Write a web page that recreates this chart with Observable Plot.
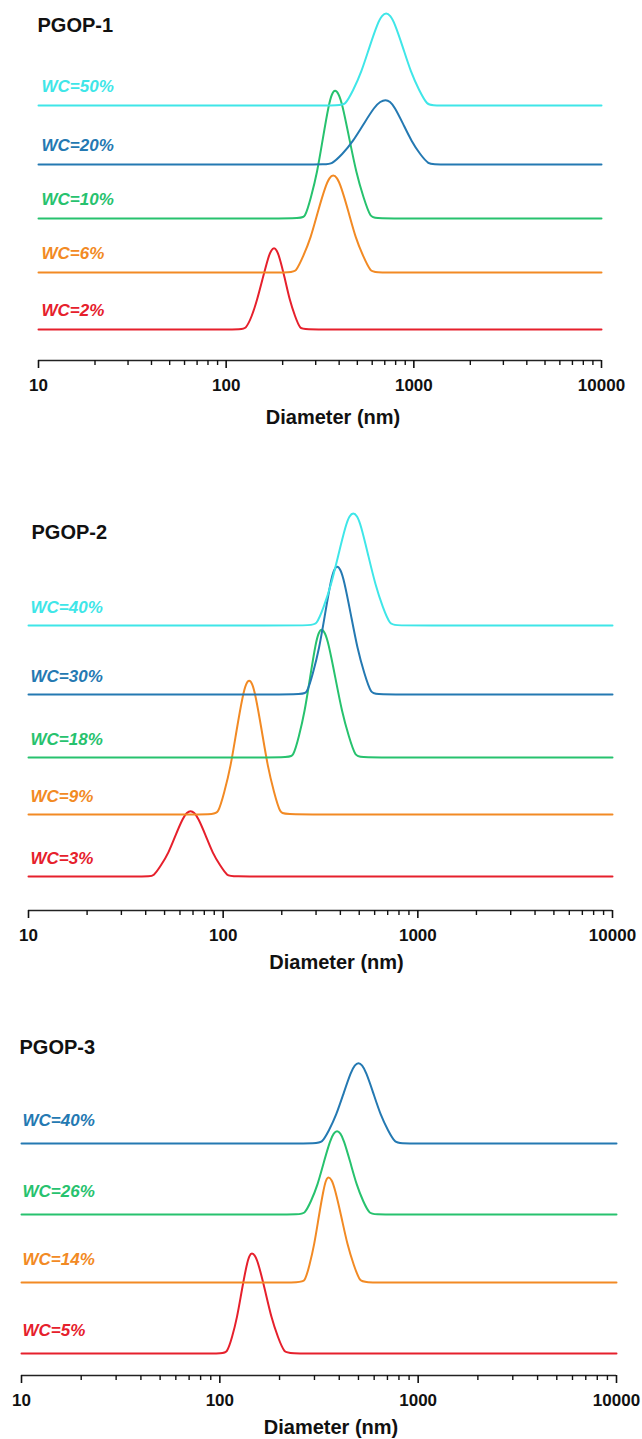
<!DOCTYPE html>
<html><head><meta charset="utf-8">
<script src="https://cdn.jsdelivr.net/npm/d3@7"></script>
<script src="https://cdn.jsdelivr.net/npm/@observablehq/plot@0.6"></script>
<style>
body{margin:0;background:#fff;}
#wrap{width:642px;}
#wrap svg{display:block;}
#wrap g[aria-label="x-axis tick label"], #wrap g[aria-label="x-axis tick label"] text{font-size:17px !important;font-weight:bold !important;}
</style></head><body><div id="wrap"></div>
<script>
// ---- shared axis data ----
const xTicksMajor = [10, 100, 1000, 10000];
const xTicksMinor = [20,30,40,50,60,70,80,90,200,300,400,500,600,700,800,900,2000,3000,4000,5000,6000,7000,8000,9000];
const xLabel = "Diameter (nm)";
const colorRed = "#e6202c", colorOrange = "#f28a24", colorGreen = "#27c26e", colorBlue = "#2479b2", colorCyan = "#3fe6e8";

// ---- PGOP-1 ----
const p1Title = "PGOP-1";
const p1Labels = ["WC=2%", "WC=6%", "WC=10%", "WC=20%", "WC=50%"];
const p1Colors = [colorRed, colorOrange, colorGreen, colorBlue, colorCyan];
const p1Offsets = [31, 88, 142, 196, 255];
const p1Diameter = [
  [10,118.7,127,137,146,157,168,173.9,180,185.9,192,205,218,233,248,265,10000],
  [10,219.6,235,257,282,309,339,355.3,372,389.5,408,447,490,538,590,631,10000],
  [10,245.8,263,283,305,328,353,366.3,380,397,415,452,494,539,589,630,10000],
  [10,339,363,415,474,542,619,662.2,708,746.5,787,875,973,1082,1202,1286,10000],
  [10,401,429,475,525,581,643,676.8,712,749,788,872,965,1068,1182,1265,10000]
];
const p1Intensity = [
  [0,0,0,13,29,52,73,79.5,82,79.5,73,52,29,13,0,0,0],
  [0,0,0,16,34,62,87,95,98,95,87,62,34,16,0,0,0],
  [0,0,0,21,45,81,115,125,129,125,115,81,45,21,0,0,0],
  [0,0,0,10,23,41,58,63,65,63,58,41,23,10,0,0,0],
  [0,0,0,15,33,59,83,90,93,90,83,59,33,15,0,0,0]
];

// ---- PGOP-2 ----
const p2Title = "PGOP-2";
const p2Labels = ["WC=3%", "WC=9%", "WC=18%", "WC=30%", "WC=40%"];
const p2Colors = [colorRed, colorOrange, colorGreen, colorBlue, colorCyan];
const p2Offsets = [34, 96, 153, 216, 285];
const p2Diameter = [
  [10,41,43.9,47.9,52.3,57.1,62.3,65.1,68,71,74.2,81,88.4,96.5,105.3,112.7,10000],
  [10,87.9,94.1,101.3,109.1,117.3,126.3,131.1,136,141.1,146.4,157.6,169.6,182.6,196.5,210.3,10000],
  [10,214,229,245,262,280,299,309.5,320,333.2,347,376,408,442,479,512.5,10000],
  [10,251.4,269,289,311,334,358,371.5,385,400.8,417,452,490,531,576,616,10000],
  [10,281.3,301,328,358,391,427,446.1,466,486.8,509,555,606,661,722,772.5,10000]
];
const p2Intensity = [
  [0,0,0,11,23,42,59,64,66,64,59,42,23,11,0,0,0],
  [0,0,0,22,47,85,120,131,135,131,120,85,47,22,0,0,0],
  [0,0,0,21,45,81,115,125,129,125,115,81,45,21,0,0,0],
  [0,0,0,21,45,81,115,125,129,125,115,81,45,21,0,0,0],
  [0,0,0,18,40,71,101,110,113,110,101,71,40,18,0,0,0]
];

// ---- PGOP-3 ----
const p3Title = "PGOP-3";
const p3Labels = ["WC=5%", "WC=14%", "WC=26%", "WC=40%"];
const p3Colors = [colorRed, colorOrange, colorGreen, colorBlue];
const p3Offsets = [22, 93, 161, 232];
const p3Diameter = [
  [10,101.6,108.7,115.2,122,129.2,136.9,140.9,145,150.6,156.5,168.8,182.1,196.5,212,226.8,10000],
  [10,250.5,268,283,299,316,334,343.4,353,366.2,380,409,440,474,510,545.7,10000],
  [10,249.5,267,288,311,335,361,375.5,390,405.1,421,454,490,528,570,610,10000],
  [10,304.7,326,355,386,422,459,479,500,521.9,545,593,647,705,768,821.8,10000]
];
const p3Intensity = [
  [0,0,0,16,35,64,90,98,101,98,90,64,35,16,0,0,0],
  [0,0,0,17,37,67,94,103,106,103,94,67,37,17,0,0,0],
  [0,0,0,13,29,53,75,81.5,84,81.5,75,53,29,13,0,0,0],
  [0,0,0,13,28,51,72,78.5,81,78.5,72,51,28,13,0,0,0]
];

const FONT = "'Liberation Sans', Arial, Helvetica, sans-serif";

function panel(d, L) {
  const marks = [
    Plot.ruleY([0], {stroke: "#222", strokeWidth: 1.6}),
    Plot.axisX(xTicksMinor, {tickSize: 5, tickFormat: () => "", strokeWidth: 1.4, label: null}),
    Plot.axisX(xTicksMajor, {tickSize: 8, tickPadding: 10, tickFormat: v => String(v), fontSize: 17, fontWeight: "bold", strokeWidth: 1.6, label: null})
  ];
  d.labels.forEach((lab, i) => {
    const rows = d.diam[i].map((x, j) => ({x, y: d.offsets[i] + d.inten[i][j]}));
    marks.push(Plot.line(rows, {x: "x", y: "y", stroke: d.colors[i], strokeWidth: 2, curve: "basis"}));
    marks.push(Plot.text([{lab, y: d.offsets[i]}], {y: "y", text: "lab", frameAnchor: "left", textAnchor: "start", lineAnchor: "middle",
      dx: L.labelDx, dy: L.labelDy, fill: d.colors[i], fontSize: 17, fontWeight: "bold", fontStyle: "italic"}));
  });
  marks.push(Plot.text([d.title], {frameAnchor: "top-left", textAnchor: "start", lineAnchor: "middle", dx: L.titleDx, dy: L.titleDy,
    fontSize: 20, fontWeight: "bold", fill: "#111"}));
  marks.push(Plot.text([xLabel], {frameAnchor: "bottom", textAnchor: "middle", lineAnchor: "middle", dx: L.xlabDx, dy: L.xlabDy,
    fontSize: 20, fontWeight: "bold", fill: "#111"}));
  return Plot.plot({
    width: 642, height: L.height,
    marginTop: L.mt, marginBottom: L.mb, marginLeft: L.ml, marginRight: L.mr,
    x: {type: "log", domain: [10, 10000]},
    y: {domain: [0, L.ymax], axis: null},
    style: {fontFamily: FONT, fontSize: "17px", fontWeight: "bold", background: "white", color: "#111"},
    marks
  });
}

const wrap = document.getElementById("wrap");
wrap.append(panel({title: p1Title, labels: p1Labels, colors: p1Colors, offsets: p1Offsets, diam: p1Diameter, inten: p1Intensity},
  {height: 440, mt: 10, mb: 80, ml: 38, mr: 41, ymax: 350, titleDx: -1, titleDy: 15, labelDx: 3, labelDy: -19, xlabDx: 13, xlabDy: 57}));
wrap.append(panel({title: p2Title, labels: p2Labels, colors: p2Colors, offsets: p2Offsets, diam: p2Diameter, inten: p2Intensity},
  {height: 540, mt: 60, mb: 70, ml: 28, mr: 30, ymax: 410, titleDx: 3, titleDy: 32, labelDx: 2, labelDy: -18, xlabDx: 16, xlabDy: 52}));
wrap.append(panel({title: p3Title, labels: p3Labels, colors: p3Colors, offsets: p3Offsets, diam: p3Diameter, inten: p3Intensity},
  {height: 459, mt: 70, mb: 64, ml: 21, mr: 26, ymax: 325, titleDx: -2, titleDy: -3, labelDx: 1, labelDy: -23, xlabDx: 12, xlabDy: 52}));
</script></body></html>
